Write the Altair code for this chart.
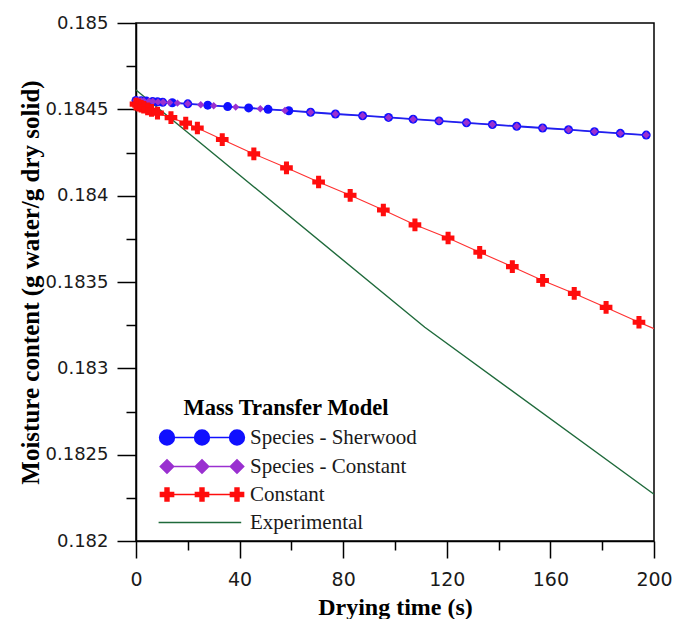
import altair as alt
import pandas as pd

# ---------------- data ----------------
series_names = ["Species - Sherwood", "Species - Constant", "Constant", "Experimental"]
series_colors = ["#1010ff", "#9a30d0", "#ff0d0d", "#1f6a3b"]

sher_t = [0, 2, 4, 6.4, 8.3, 10.3, 14, 20, 27.7, 35.4, 43.5, 51, 59, 67.4, 77, 87.5,
          97.5, 107, 117, 127.6, 137.6, 147, 157, 167, 177, 187, 197]
sher_m = [0.184552, 0.18455, 0.184548, 0.184545, 0.184544, 0.184541, 0.184538, 0.184532,
          0.184524, 0.184516, 0.184508, 0.1845, 0.184492, 0.184483, 0.184473, 0.184463,
          0.184453, 0.184443, 0.184433, 0.184422, 0.184412, 0.184402, 0.184392, 0.184382,
          0.184371, 0.184361, 0.184351]

spc_t = [0, 1, 2, 3, 5, 6.5, 8.5, 10.5, 13, 16, 20, 25, 30, 38.5, 48, 57.5, 67.4, 77,
         87.5, 97.5, 107, 117, 127.6, 137.6, 147, 157, 167, 177, 187, 197]
spc_m = [0.184552, 0.184551, 0.18455, 0.184549, 0.184547, 0.184545, 0.184543, 0.184541,
         0.184539, 0.184536, 0.184532, 0.184527, 0.184521, 0.184513, 0.184503, 0.184493,
         0.184483, 0.184473, 0.184463, 0.184453, 0.184443, 0.184433, 0.184422, 0.184412,
         0.184402, 0.184392, 0.184382, 0.184371, 0.184361, 0.184351]

con_t = [0, 1, 2, 3, 4.5, 6, 8.3, 13.5, 19.2, 23.7, 33.3, 45.5, 58.1, 70.5, 82.7, 95.5,
         107.7, 120.5, 132.7, 145.3, 157, 169.2, 181.5, 194.2]
con_m = [0.18453, 0.184524, 0.184518, 0.184512, 0.184503, 0.184494, 0.184478, 0.184452,
         0.18442, 0.184392, 0.184325, 0.184242, 0.184161, 0.184079, 0.184002, 0.183917,
         0.183831, 0.183755, 0.183672, 0.183589, 0.183509, 0.183434, 0.183353, 0.183267]
con_end_t = [200]
con_end_m = [0.18323]

exp_t = [0, 111.5, 200]
exp_m = [0.184612, 0.183238, 0.182271]

x_major = [0, 40, 80, 120, 160, 200]
x_minor = [20, 60, 100, 140, 180]
y_major = [0.182, 0.1825, 0.183, 0.1835, 0.184, 0.1845, 0.185]
y_minor = [0.18225, 0.18275, 0.18325, 0.18375, 0.18425, 0.18475]

x_title = "Drying time (s)"
y_title = "Moisture content (g water/g dry solid)"
legend_title = "Mass Transfer Model"


# ---------------- legend glyphs (line + three markers) ----------------
def circ(cx, r):
    k = 0.5523 * r
    return (f"M{cx + r},0C{cx + r},{k} {cx + k},{r} {cx},{r}"
            f"C{cx - k},{r} {cx - r},{k} {cx - r},0"
            f"C{cx - r},{-k} {cx - k},{-r} {cx},{-r}"
            f"C{cx + k},{-r} {cx + r},{-k} {cx + r},0Z")


def diam(cx, d):
    return f"M{cx - d},0L{cx},{-d}L{cx + d},0L{cx},{d}Z"


def plus(cx, a, w):
    return (f"M{cx - a},{-w}L{cx - w},{-w}L{cx - w},{-a}L{cx + w},{-a}L{cx + w},{-w}"
            f"L{cx + a},{-w}L{cx + a},{w}L{cx + w},{w}L{cx + w},{a}L{cx - w},{a}"
            f"L{cx - w},{w}L{cx - a},{w}Z")


P = 2.5  # marker offset in symbol units (1 unit = 14 px)
legend_paths = [
    "M-2.5,0L2.5,0" + "".join(circ(c, 0.53) for c in (-P, 0, P)),
    "M-2.5,0L2.5,0" + "".join(diam(c, 0.48) for c in (-P, 0, P)),
    "M-2.5,0L2.5,0" + "".join(plus(c, 0.47, 0.14) for c in (-P, 0, P)),
    "M-3.1,0L2.8,0",
]


def frame(ts, ms, name):
    return pd.DataFrame({"t": ts, "m": ms, "series": name})


sher_df = frame(sher_t, sher_m, series_names[0])
spc_df = frame(spc_t, spc_m, series_names[1])
con_df = frame(con_t, con_m, series_names[2])
con_line_df = frame(con_t + con_end_t, con_m + con_end_m, series_names[2])
exp_df = frame(exp_t, exp_m, series_names[3])
leg_df = pd.DataFrame({
    "t": [sher_t[0], spc_t[0], con_t[0], exp_t[0]],
    "m": [sher_m[0], spc_m[0], con_m[0], exp_m[0]],
    "series": series_names,
})

xscale = alt.Scale(domain=[0, 200], nice=False)
yscale = alt.Scale(domain=[0.182, 0.185], nice=False, zero=False)

x_major_axis = alt.Axis(
    orient="bottom", values=x_major, grid=False, tickSize=17, tickWidth=1.5,
    tickColor="black", domainColor="black", domainWidth=1.5, labelFont="DejaVu Sans",
    labelFontSize=19, labelColor="#1a1a1a", labelPadding=12, labelFlush=False,
    titleFont="Liberation Serif", titleFontSize=24, titleFontWeight="bold",
    titleColor="black", titleY=54, titleBaseline="top")
y_major_axis = alt.Axis(
    orient="left", values=y_major, format=".4~f", grid=False, tickSize=19,
    tickWidth=1.5, tickColor="black", domainColor="black", domainWidth=1.5,
    labelFont="DejaVu Sans", labelFontSize=18, labelColor="#1a1a1a", labelPadding=9,
    labelFlush=False, titleFont="Liberation Serif", titleFontSize=25,
    titleFontWeight="bold", titleColor="black", titleX=-93, titleBaseline="bottom")
x_minor_axis = alt.Axis(orient="bottom", values=x_minor, grid=False, labels=False,
                        domain=False, tickSize=9, tickWidth=1.5, tickColor="black")
y_minor_axis = alt.Axis(orient="left", values=y_minor, grid=False, labels=False,
                        domain=False, tickSize=10, tickWidth=1.5, tickColor="black")


def X(axis=None, title=None):
    return alt.X("t:Q", scale=xscale, axis=axis, title=title)


def Y(axis=None, title=None):
    return alt.Y("m:Q", scale=yscale, axis=axis, title=title)


exp_line = alt.Chart(exp_df).mark_line(color=series_colors[3], strokeWidth=1.4).encode(
    x=X(x_major_axis, x_title), y=Y(y_major_axis, y_title))
sher_line = alt.Chart(sher_df).mark_line(color="#2020f0", strokeWidth=1.8).encode(x=X(), y=Y())
spc_line = alt.Chart(spc_df).mark_line(color="#b070e0", strokeWidth=1).encode(x=X(), y=Y())
con_line = alt.Chart(con_line_df).mark_line(color="#ff3030", strokeWidth=1.1).encode(x=X(), y=Y())

sher_pts = alt.Chart(sher_df).mark_point(
    shape="circle", filled=True, size=80, color=series_colors[0], opacity=1).encode(x=X(), y=Y())
spc_pts = alt.Chart(spc_df).mark_point(
    shape="diamond", filled=True, size=55, color=series_colors[1], opacity=1).encode(x=X(), y=Y())
con_pts = alt.Chart(con_df).mark_point(
    shape="cross", filled=True, size=160, color=series_colors[2], opacity=1).encode(x=X(), y=Y())

leg = alt.Legend(
    title=legend_title, orient="none", legendX=19, legendY=374, direction="vertical",
    padding=0, symbolSize=784, symbolStrokeWidth=1.5, symbolOffset=32, labelOffset=33,
    labelFont="Liberation Serif", labelFontSize=21, labelColor="#1a1a1a", labelLimit=400,
    titleFont="Liberation Serif", titleFontSize=22.5, titleFontWeight="bold",
    titleColor="black", titleAnchor="middle", titlePadding=3, titleLimit=400, rowPadding=3)

legend_layer = alt.Chart(leg_df).mark_point(filled=True, size=0, opacity=1).encode(
    x=X(x_minor_axis),
    y=Y(y_minor_axis),
    fill=alt.Fill("series:N", scale=alt.Scale(domain=series_names, range=series_colors), legend=leg),
    stroke=alt.Stroke("series:N", scale=alt.Scale(domain=series_names, range=series_colors), legend=leg),
    shape=alt.Shape("series:N", scale=alt.Scale(domain=series_names, range=legend_paths), legend=leg),
)

chart = alt.layer(
    exp_line, spc_line, sher_line, con_line, sher_pts, spc_pts, con_pts, legend_layer
).resolve_axis(x="independent", y="independent").properties(
    width=518, height=518,
    autosize=alt.AutoSizeParams(type="none"),
    padding={"left": 136, "top": 23, "right": 21, "bottom": 78},
    background="white",
).configure_view(stroke="black", strokeWidth=1.5)

chart.save("out.html", embed_options={"renderer": "svg", "actions": False})
